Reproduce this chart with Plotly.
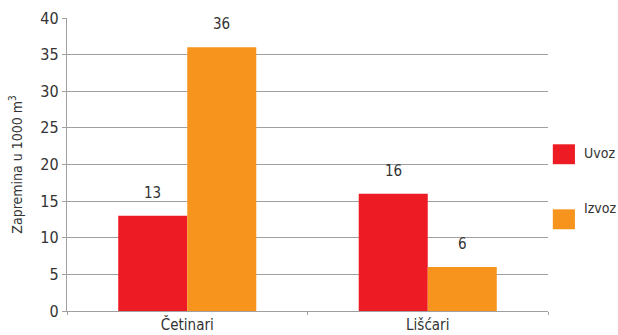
import plotly.graph_objects as go

categories = ["Četinari", "Lišćari"]
uvoz = [13, 16]
izvoz = [36, 6]
series_names = ["Uvoz", "Izvoz"]
series_colors = ["#ED1C24", "#F7941D"]
y_ticks = [0, 5, 10, 15, 20, 25, 30, 35, 40]

FONT = "DejaVu Sans Condensed, Liberation Sans Narrow, sans-serif"
TXT = "#333333"
GRID = "#a0a0a0"

fig = go.Figure()
for name, vals, col in zip(series_names, [uvoz, izvoz], series_colors):
    fig.add_trace(go.Bar(x=categories, y=vals, name=name, marker_color=col,
                         marker_line_width=0, showlegend=False))

# value labels above the bars
for i, vals in enumerate([uvoz, izvoz]):
    off = -0.1435 if i == 0 else 0.1435
    for j, v in enumerate(vals):
        fig.add_annotation(x=j + off, y=v, xref="x", yref="y", text=str(v),
                           showarrow=False, yshift=23,
                           font=dict(family=FONT, size=15, color=TXT))

# legend: coloured squares with labels
for k, (name, col) in enumerate(zip(series_names, series_colors)):
    yc = 0.535 - k * 0.222
    fig.add_shape(type="rect", xref="paper", yref="paper",
                  x0=1.01, x1=1.056, y0=yc - 0.034, y1=yc + 0.034,
                  fillcolor=col, line_width=0)
    fig.add_annotation(x=1.07, y=yc + 0.004, xref="paper", yref="paper", text=name,
                       showarrow=False, xanchor="left",
                       font=dict(family=FONT, size=14, color=TXT))

fig.update_layout(
    width=618, height=335,
    margin=dict(l=67, r=70, t=18, b=24),
    paper_bgcolor="white", plot_bgcolor="white",
    barmode="group", bargap=0.426, bargroupgap=0,
    font=dict(family=FONT, color=TXT),
    yaxis=dict(range=[0, 40], tickvals=y_ticks, showgrid=True, gridcolor=GRID,
               gridwidth=1.3, showline=True, linecolor=GRID, linewidth=1.3,
               ticks="outside", ticklen=4, tickcolor=GRID, automargin=False,
               tickfont=dict(family=FONT, size=16, color=TXT),
               zeroline=False,
               title=dict(text="Zapremina u 1000 m<sup>3</sup>",
                          font=dict(family=FONT, size=14, color=TXT), standoff=14)),
    xaxis=dict(range=[-0.5, 1.5], showline=True, linecolor=GRID, linewidth=1.3,
               ticks="outside", tickson="boundaries", ticklen=3, tickcolor=GRID,
               automargin=False,
               tickfont=dict(family=FONT, size=15, color=TXT)),
)

fig.write_html("out.html")
